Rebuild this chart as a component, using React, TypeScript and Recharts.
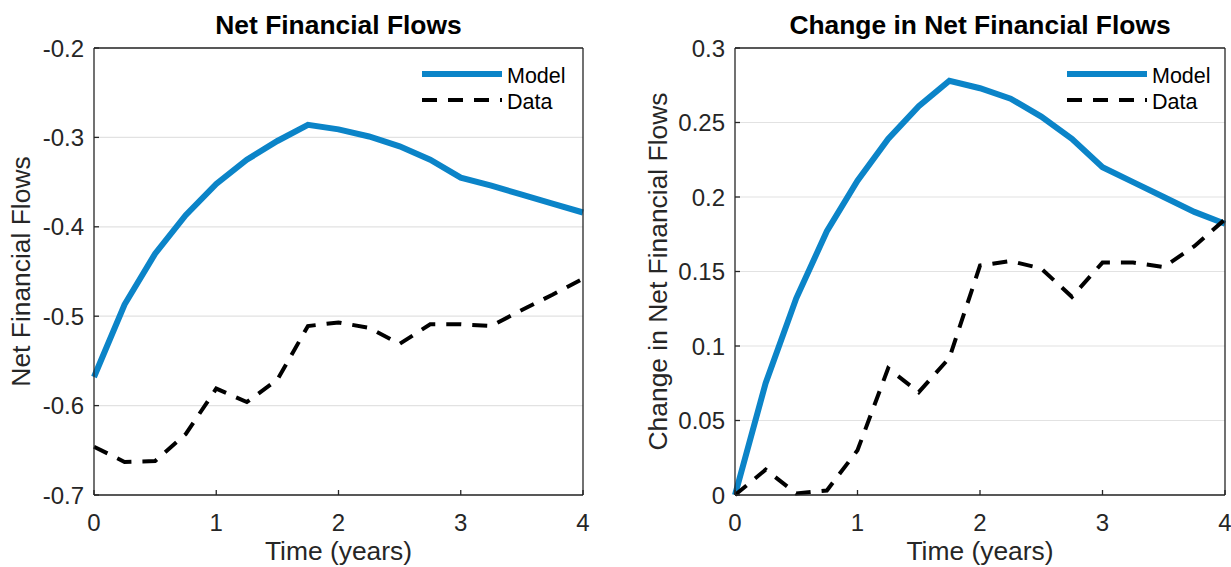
import React from "react";
import { LineChart, Line, XAxis, YAxis, CartesianGrid, Legend, Label } from "recharts";

// quarterly steps over four years
const years = [0, 0.25, 0.5, 0.75, 1, 1.25, 1.5, 1.75, 2, 2.25, 2.5, 2.75, 3, 3.25, 3.5, 3.75, 4];

const flowsModel = [
  -0.568, -0.487, -0.43, -0.387, -0.352, -0.325, -0.304, -0.286, -0.291,
  -0.299, -0.31, -0.325, -0.345, -0.354, -0.364, -0.374, -0.384,
];
const flowsData = [
  -0.646, -0.663, -0.662, -0.632, -0.581, -0.596, -0.571, -0.511, -0.507,
  -0.513, -0.531, -0.509, -0.509, -0.511, -0.493, -0.476, -0.458,
];
const changeModel = [
  0, 0.075, 0.132, 0.177, 0.211, 0.239, 0.261, 0.278, 0.273,
  0.266, 0.254, 0.239, 0.22, 0.21, 0.2, 0.19, 0.182,
];
const changeData = [
  0, 0.017, 0.001, 0.003, 0.03, 0.085, 0.069, 0.092, 0.154,
  0.157, 0.152, 0.133, 0.156, 0.156, 0.153, 0.167, 0.185,
];

const xTicks = [0, 1, 2, 3, 4];
const flowsTicks = [-0.7, -0.6, -0.5, -0.4, -0.3, -0.2];
const changeTicks = [0, 0.05, 0.1, 0.15, 0.2, 0.25, 0.3];
const seriesOrder = ["Model", "Data"];

const FONT = '"Liberation Sans", Arial, sans-serif';
const AXIS = "#262626";
const GRID = "#e2e2e2";
const BLUE = "#0b84c8";

const seriesStyle: Record<string, { width: number; dash?: string }> = {
  Model: { width: 6 },
  Data: { width: 4, dash: "15 11" },
};

function LegendBox({ payload }: any) {
  const items = [...(payload || [])].sort((a: any, b: any) => seriesOrder.indexOf(a.value) - seriesOrder.indexOf(b.value));
  return (
    <svg width={170} height={60}>
      {items.map((p: any, i: number) => {
        const s = seriesStyle[p.value];
        const y = 12 + i * 26;
        return (
          <g key={p.value}>
            <line x1={2} x2={82} y1={y} y2={y} stroke={p.color} strokeWidth={s.width} strokeDasharray={s.dash} />
            <text x={87} y={y} dy="0.4em" fontSize={21.5} fill="#000">
              {p.value}
            </text>
          </g>
        );
      })}
    </svg>
  );
}

interface PanelProps {
  title: string;
  yLabel: string;
  model: number[];
  data: number[];
  ticks: number[];
  left: number;
  width: number;
  marginLeft: number;
  yLabelX: number;
  rightWidth: number;
  marginRight: number;
  legendLeft: number;
}

function Panel({ title, yLabel, model, data, ticks, left, width, marginLeft, yLabelX, rightWidth, marginRight, legendLeft }: PanelProps) {
  const rows = years.map((t, i) => ({ t, Model: model[i], Data: data[i] }));
  const domain = [ticks[0], ticks[ticks.length - 1]];
  return (
    <div style={{ position: "absolute", left, top: 0 }}>
      <LineChart width={width} height={567} data={rows} margin={{ top: 38, right: marginRight, bottom: 32, left: marginLeft }}>
        <CartesianGrid vertical={false} stroke={GRID} strokeWidth={1.2} />
        <XAxis
          dataKey="t"
          type="number"
          domain={[0, 4]}
          ticks={xTicks}
          interval={0}
          height={40}
          tickSize={-5}
          tickMargin={24}
          stroke={AXIS}
          strokeWidth={1.3}
          tick={{ fill: AXIS, fontSize: 24 }}
        >
          <Label
            content={({ viewBox }: any) => (
              <text x={viewBox.x + viewBox.width / 2} y={viewBox.y + 56} dy="0.35em" textAnchor="middle" fontSize={26.4} fill={AXIS}>
                Time (years)
              </text>
            )}
          />
        </XAxis>
        <XAxis
          xAxisId="top"
          orientation="top"
          dataKey="t"
          type="number"
          domain={[0, 4]}
          ticks={xTicks}
          interval={0}
          height={10}
          tickSize={-5}
          tick={false}
          stroke={AXIS}
          strokeWidth={1.3}
        >
          <Label
            content={({ viewBox }: any) => (
              <text x={viewBox.x + viewBox.width / 2} y={viewBox.y - 13} dy="0.35em" textAnchor="middle" fontSize={26.4} fontWeight="bold" fill="#000">
                {title}
              </text>
            )}
          />
        </XAxis>
        <YAxis
          type="number"
          domain={domain}
          ticks={ticks}
          interval={0}
          width={84}
          tickSize={-5}
          tickMargin={15}
          stroke={AXIS}
          strokeWidth={1.3}
          tick={{ fill: AXIS, fontSize: 24 }}
        >
          <Label
            content={({ viewBox }: any) => {
              const cy = viewBox.y + viewBox.height / 2;
              return (
                <text x={yLabelX} y={cy} dy="0.35em" textAnchor="middle" fontSize={26.4} fill={AXIS} transform={`rotate(-90, ${yLabelX}, ${cy})`}>
                  {yLabel}
                </text>
              );
            }}
          />
        </YAxis>
        <YAxis
          yAxisId="right"
          orientation="right"
          type="number"
          domain={domain}
          ticks={ticks}
          interval={0}
          width={rightWidth}
          tickSize={-5}
          tick={false}
          stroke={AXIS}
          strokeWidth={1.3}
        />
        <Legend
          layout="vertical"
          verticalAlign="middle"
          align="center"
          content={<LegendBox />}
          wrapperStyle={{ left: legendLeft, top: 62, width: 170, height: 60 }}
        />
        <Line type="linear" dataKey="Model" stroke={BLUE} strokeWidth={6} dot={false} isAnimationActive={false} />
        <Line type="linear" dataKey="Data" stroke="#000" strokeWidth={4} strokeDasharray="15 11" dot={false} isAnimationActive={false} />
      </LineChart>
    </div>
  );
}

export default function App() {
  return (
    <div style={{ position: "absolute", left: 0, top: 0, width: 1231, height: 567, background: "#fff", fontFamily: FONT }}>
      <Panel
        title="Net Financial Flows"
        yLabel="Net Financial Flows"
        model={flowsModel}
        data={flowsData}
        ticks={flowsTicks}
        left={0}
        width={620}
        marginLeft={10}
        yLabelX={21}
        rightWidth={10}
        marginRight={27}
        legendLeft={420}
      />
      <Panel
        title="Change in Net Financial Flows"
        yLabel="Change in Net Financial Flows"
        model={changeModel}
        data={changeData}
        ticks={changeTicks}
        left={620}
        width={611}
        marginLeft={31}
        yLabelX={38}
        rightWidth={6}
        marginRight={0}
        legendLeft={445}
      />
    </div>
  );
}
